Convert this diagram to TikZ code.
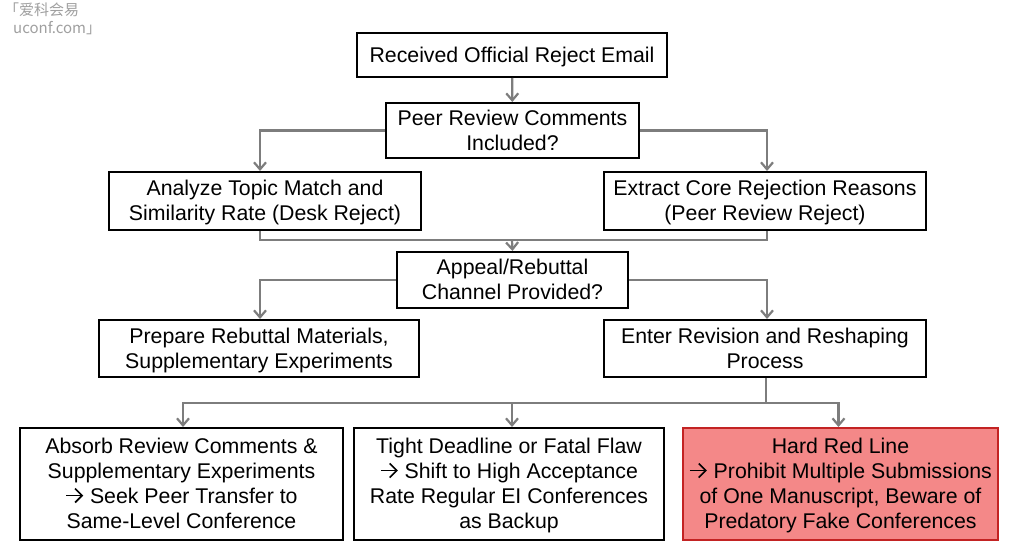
\documentclass[tikz,border=0pt]{standalone}
\usepackage{fontspec}
\setmainfont{Liberation Sans}
\newfontfamily\cjkfont{Noto Sans CJK SC}
\usetikzlibrary{arrows.meta}
\definecolor{linegray}{RGB}{125,125,125}
\definecolor{redfill}{RGB}{244,136,136}
\definecolor{redborder}{RGB}{195,35,35}
\definecolor{wmgray}{RGB}{160,160,160}
\newcommand{\bxt}[1]{\raisebox{-2pt}[\height][\depth]{\begin{tabular}{@{}c@{}}#1\end{tabular}}}
\newcommand{\rarr}{\tikz[baseline=-8pt]{\draw[black, line width=1.7pt, -{Straight Barb[length=7pt,width=14pt,line width=1.7pt]}] (0.5pt,0pt) -- (17.5pt,0pt);}}
\begin{document}
\begin{tikzpicture}[x=1pt,y=-1pt,
  box/.style={draw=black, line width=2pt, fill=white, inner sep=0pt,
    font=\fontsize{21.3}{25}\selectfont},
  redbox/.style={box, draw=redborder, fill=redfill},
  line/.style={draw=linegray, line width=2.2pt},
  conn/.style={line, -{Straight Barb[length=7pt,width=12pt,line width=2.2pt]}},
  wm/.style={text=wmgray, font=\cjkfont\fontsize{15}{17}\selectfont, inner sep=0pt, anchor=west}]
\useasboundingbox (0,0) rectangle (1020,557);
\fill[white] (0,0) rectangle (1020,557);

\node[wm] (wm1) at (4,10) {「爱科会易};
\node[wm] (wm2) at (13,28) {uconf.com」};

\node[box, minimum width=310, minimum height=44] (recv) at (512,55) {\bxt{Received Official Reject Email}};
\node[box, minimum width=253, minimum height=55] (peer) at (512.5,130.5) {\bxt{Peer Review Comments\\Included?}};
\node[box, minimum width=312, minimum height=58] (analyze) at (265,201) {\bxt{Analyze Topic Match and\\Similarity Rate (Desk Reject)}};
\node[box, minimum width=322, minimum height=58] (extract) at (765,201) {\bxt{Extract Core Rejection Reasons\\(Peer Review Reject)}};
\node[box, minimum width=231, minimum height=56] (appeal) at (512.5,280) {\bxt{Appeal/Rebuttal\\Channel Provided?}};
\node[box, minimum width=320, minimum height=57] (prep) at (259,348.5) {\bxt{Prepare Rebuttal Materials,\\Supplementary Experiments}};
\node[box, minimum width=322, minimum height=57] (enter) at (765,348.5) {\bxt{Enter Revision and Reshaping\\Process}};
\node[box, minimum width=323, minimum height=112] (absorb) at (181.5,484) {\bxt{Absorb Review Comments \&\\Supplementary Experiments\\\rarr{} Seek Peer Transfer to\\Same-Level Conference}};
\node[box, minimum width=310, minimum height=112] (tight) at (509,484) {\bxt{Tight Deadline or Fatal Flaw\\\rarr{} Shift to High Acceptance\\Rate Regular EI Conferences\\as Backup}};
\node[redbox, minimum width=315, minimum height=112] (red) at (840.5,484) {\bxt{Hard Red Line\\\rarr{} Prohibit Multiple Submissions\\of One Manuscript, Beware of\\Predatory Fake Conferences}};

\coordinate (j1) at (512,240);
\coordinate (j2) at (766,403);

\draw[conn] (recv) -- (peer);
\draw[conn] (peer.west) -| ([xshift=-5pt]analyze.north);
\draw[conn] (peer.east) -| ([xshift=2pt]extract.north);
\draw[line] ([xshift=-5pt]analyze.south) |- (j1) -| ([xshift=2pt]extract.south);
\draw[conn] (j1) -- (appeal.north);
\draw[conn] (appeal.west) -| ([xshift=1pt]prep.north);
\draw[conn] (appeal.east) -| ([xshift=2pt]enter.north);
\draw[line] ([xshift=1pt]enter.south) -- (j2);
\draw[conn] (j2) -| ([xshift=1.5pt]absorb.north);
\draw[conn] (j2) -| ([xshift=-2pt]red.north);
\draw[conn] (j1 |- j2) -- (j1 |- tight.north);
\end{tikzpicture}
\end{document}
